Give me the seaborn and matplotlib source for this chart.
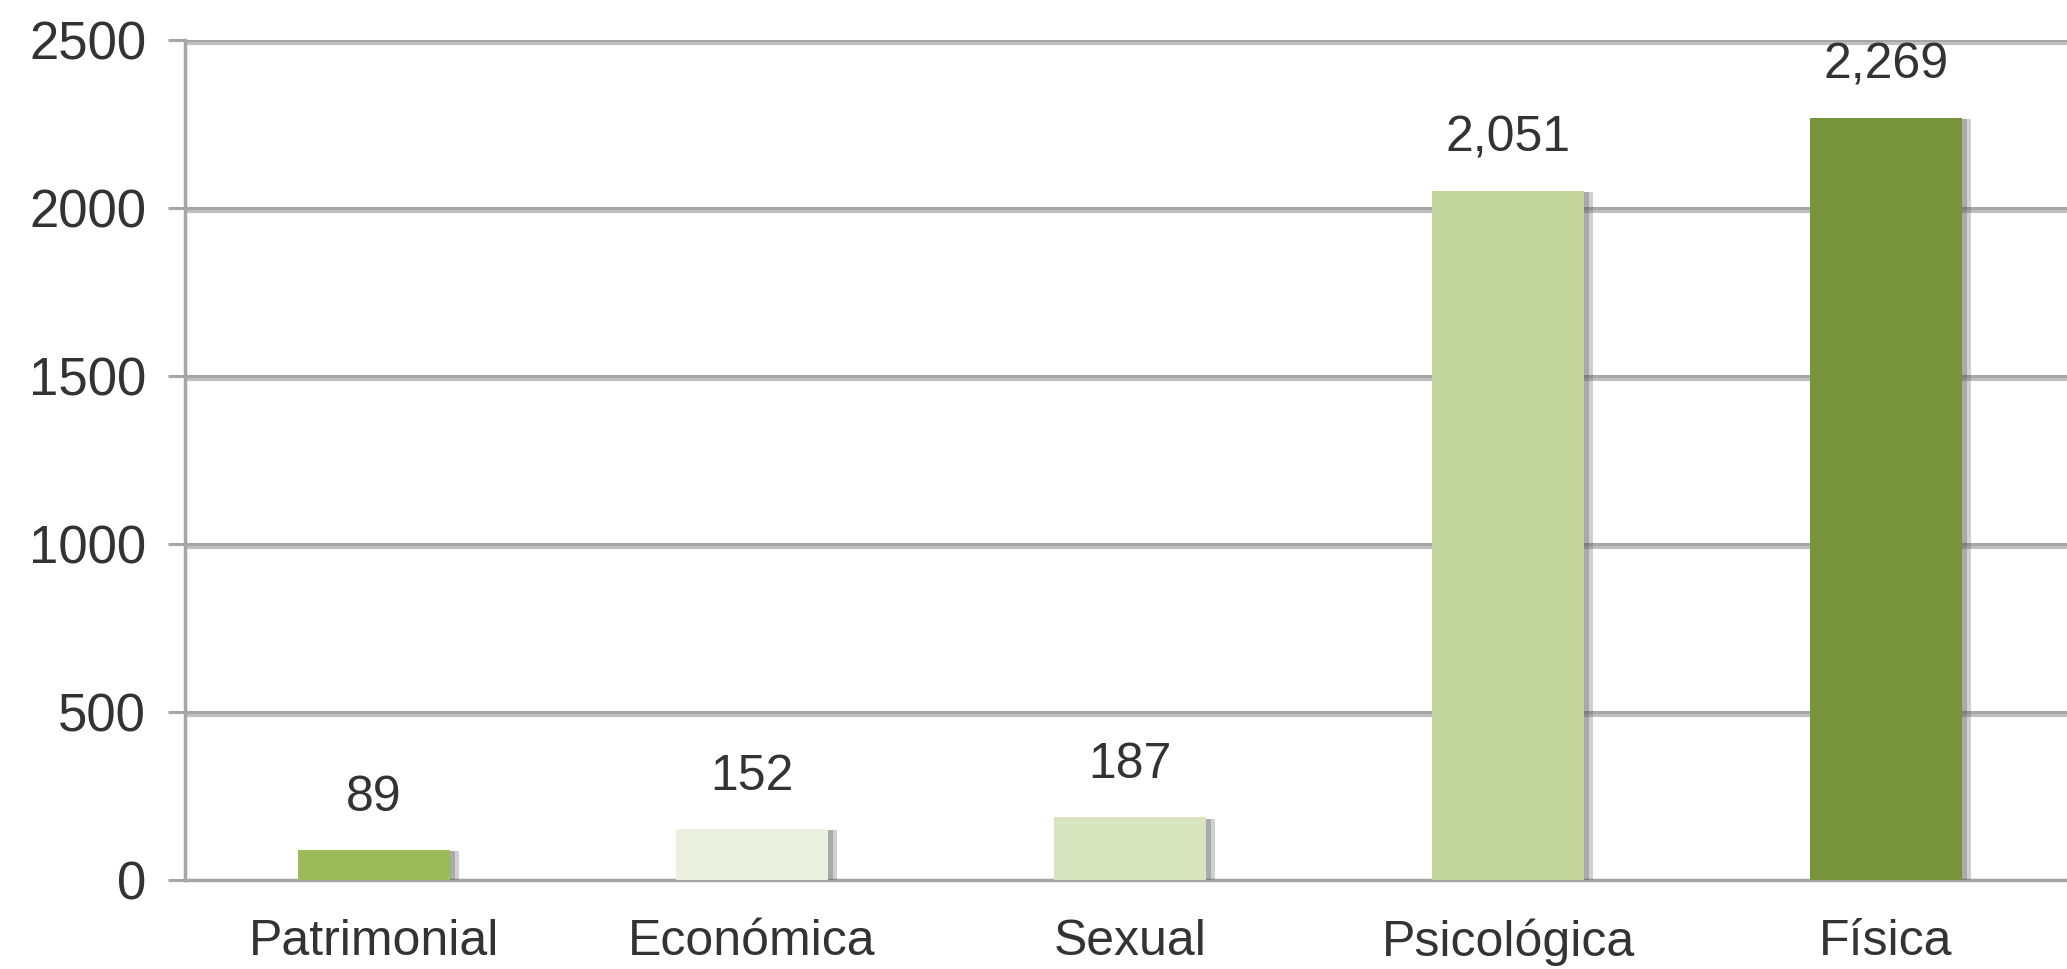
import matplotlib
matplotlib.use("Agg")
import matplotlib.pyplot as plt
import matplotlib.patheffects as pe
import seaborn as sns
import pandas as pd

# ─── Data ─────────────────────────────────────────────────────────────────────
categories = ["Patrimonial", "Económica", "Sexual", "Psicológica", "Física"]
values = [89, 152, 187, 2051, 2269]
value_labels = ["89", "152", "187", "2,051", "2,269"]
bar_colors = ["#9BBB59", "#EBF1DE", "#D7E4BD", "#C3D69B", "#77933C"]
y_ticks = [0, 500, 1000, 1500, 2000, 2500]

df = pd.DataFrame({"tipo": categories, "casos": values})

sns.set_style("white")
plt.rcParams["font.family"] = ["Liberation Sans", "DejaVu Sans"]

fig = plt.figure(figsize=(20.67, 9.69), dpi=100)
ax = fig.add_axes([185 / 2067, 89 / 969, 1890 / 2067, 840 / 969])

sns.barplot(data=df, x="tipo", y="casos", hue="tipo", palette=bar_colors,
            width=0.4, legend=False, ax=ax, zorder=3, saturation=1)

# soft shadow on the right side of each bar, like the original office chart
for bar in ax.patches:
    bar.set_edgecolor("none")
    bar.set_path_effects([
        pe.SimplePatchShadow(offset=(7, -1), shadow_rgbFace="#666666", alpha=0.3),
        pe.SimplePatchShadow(offset=(4, -1), shadow_rgbFace="#555555", alpha=0.3),
        pe.Normal(),
    ])

# value labels, one per bar (each hue level has its own container)
for cont, lab in zip(ax.containers, value_labels):
    for b in cont:
        if b is None:
            continue
        ax.annotate(lab, (b.get_x() + b.get_width() / 2, b.get_height()),
                    xytext=(0, 21), textcoords="offset points",
                    ha="center", va="bottom", fontsize=36, color="#333333")

ax.set_ylim(0, 2500)
ax.set_xlim(-0.5, 4.5)
ax.set_yticks(y_ticks)
ax.set_yticklabels([str(t) for t in y_ticks], fontsize=38, color="#333333")
ax.tick_params(axis="x", length=0, pad=28, labelsize=36, labelcolor="#333333")
ax.tick_params(axis="y", left=True, length=12, width=2.2, color="#A6A6A6",
               pad=16, direction="out")
ax.set_xlabel("")
ax.set_ylabel("")

ax.yaxis.grid(True, color="#A6A6A6", linewidth=2.2, zorder=0,
              path_effects=[pe.SimpleLineShadow(offset=(0, -2), alpha=0.25),
                            pe.Normal()])
ax.set_axisbelow(True)

for side in ["top", "right"]:
    ax.spines[side].set_visible(False)
ax.spines["left"].set_color("#A6A6A6")
ax.spines["left"].set_linewidth(2.5)
ax.spines["bottom"].set_color("#A6A6A6")
ax.spines["bottom"].set_linewidth(2.5)

plt.savefig("out.png", dpi=100)
plt.close()
